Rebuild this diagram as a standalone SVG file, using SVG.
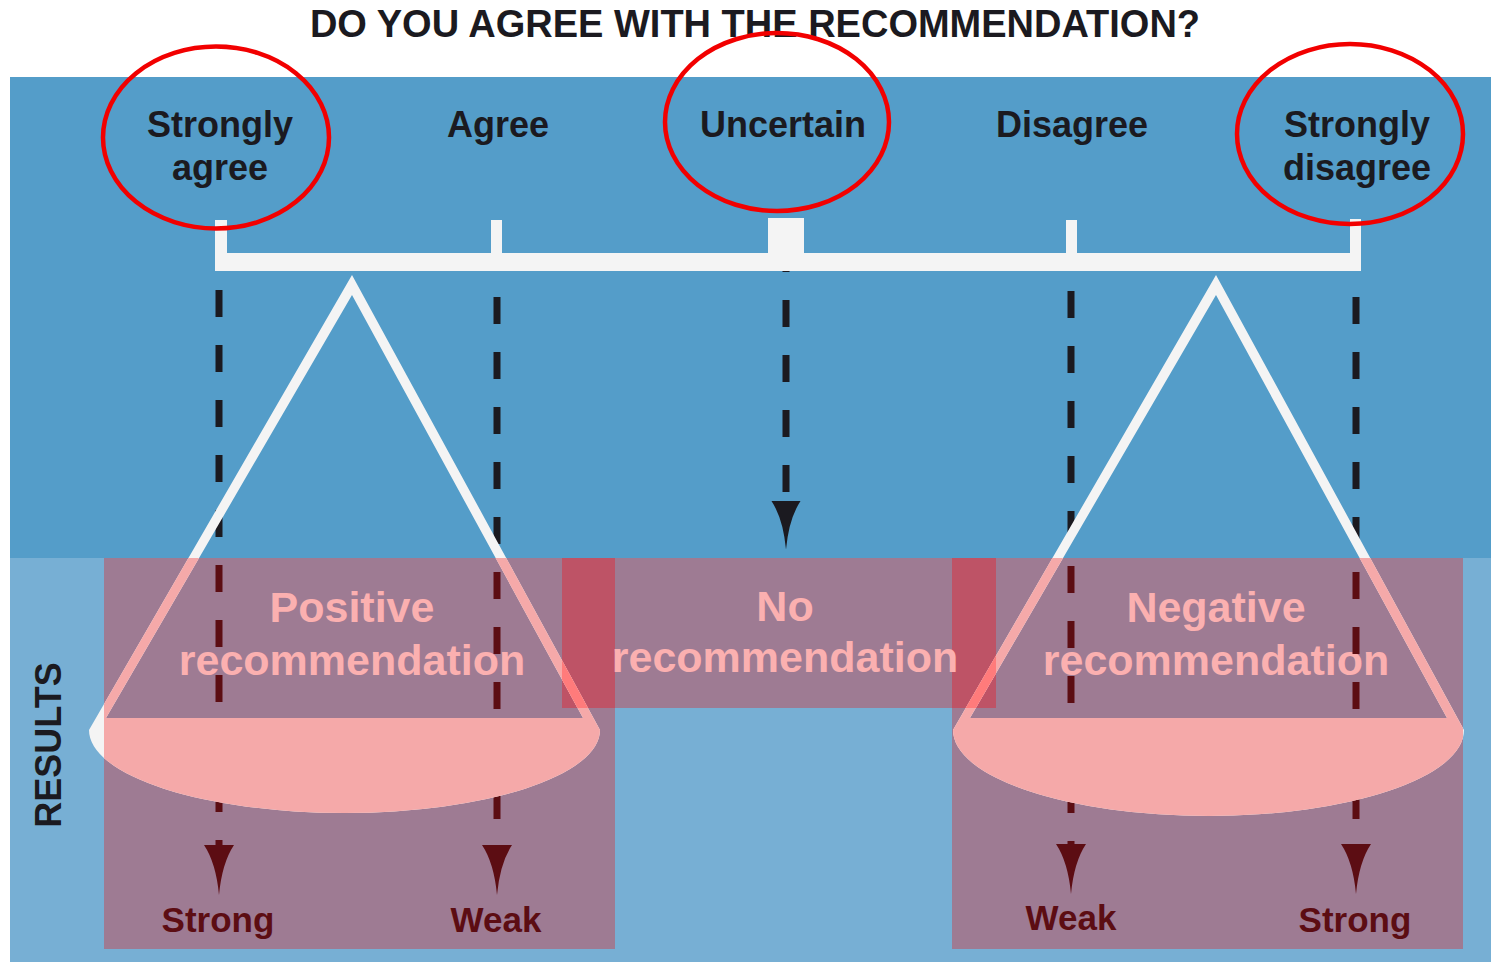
<svg xmlns="http://www.w3.org/2000/svg" width="1491" height="963" viewBox="0 0 1491 963">
  <style>
    text { font-family: "Liberation Sans", Arial, sans-serif; font-weight: bold; text-anchor: middle; }
    .title { font-size: 38px; fill: #1b1a20; }
    .opt { font-size: 36px; fill: #1b1a20; }
    .res { font-size: 43px; fill: #fbb0b0; }
    .grade { font-size: 35px; fill: #5c0d13; }
    .side { font-size: 36px; fill: #1b1a20; }
    .ring { fill: none; stroke: #f20000; stroke-width: 4.5; }
    .bar { fill: #f4f4f4; }
    .dash { stroke-width: 7; stroke-dasharray: 27 28; fill: none; }
    .box { fill: #9e7b93; }
    .boxover { fill: #be5366; }
  </style>
  <defs>
    <linearGradient id="dashInk" gradientUnits="userSpaceOnUse" x1="0" y1="0" x2="0" y2="963">
      <stop offset="0.5794" stop-color="#1b1a20"/>
      <stop offset="0.5794" stop-color="#5c0d13"/>
    </linearGradient>
    <path id="head" d="M-15,0 L15,0 Q3,18 0,50 Q-3,18 -15,0 Z"/>
    <path id="scaleL" fill-rule="evenodd" d="M352,275 L89,730 A255.5,83 0 0 0 600,730 Z M352,295 L583,718 L106,718 Z"/>
    <path id="scaleR" fill-rule="evenodd" d="M1216,275 L953,730 A255.5,86 0 0 0 1464,730 Z M1216,295 L1447,718 L970,718 Z"/>
    <clipPath id="inBoxes">
      <rect x="104" y="558" width="511" height="391"/>
      <rect x="952" y="558" width="511" height="391"/>
      <rect x="562" y="558" width="434" height="150"/>
    </clipPath>
    <clipPath id="inOverlap">
      <rect x="562" y="558" width="53" height="150"/>
      <rect x="952" y="558" width="44" height="150"/>
    </clipPath>
  </defs>

  <!-- background panels -->
  <rect x="0" y="0" width="1491" height="963" fill="#ffffff"/>
  <rect x="10" y="77" width="1481" height="481" fill="#549dc9"/>
  <rect x="10" y="558" width="1481" height="404" fill="#77afd4"/>

  <text class="title" x="755" y="37">DO YOU AGREE WITH THE RECOMMENDATION?</text>

  <!-- result boxes -->
  <g id="box-positive"><rect class="box" x="104" y="558" width="511" height="391"/></g>
  <g id="box-negative"><rect class="box" x="952" y="558" width="511" height="391"/></g>
  <g id="box-none">
    <rect class="box" x="562" y="558" width="434" height="150"/>
    <rect class="boxover" x="562" y="558" width="53" height="150"/>
    <rect class="boxover" x="952" y="558" width="44" height="150"/>
  </g>

  <g id="results-label">
    <text class="side" transform="translate(61,745) rotate(-90)">RESULTS</text>
  </g>

  <!-- result captions -->
  <g id="positive-text">
    <text class="res" x="352" y="622">Positive</text>
    <text class="res" x="352" y="675">recommendation</text>
  </g>
  <g id="none-text">
    <text class="res" x="785" y="621">No</text>
    <text class="res" x="785" y="672">recommendation</text>
  </g>
  <g id="negative-text">
    <text class="res" x="1216" y="622">Negative</text>
    <text class="res" x="1216" y="675">recommendation</text>
  </g>

  <!-- dashed arrows from each answer down to the outcome -->
  <g id="connectors">
    <line class="dash" x1="219" y1="235" x2="219" y2="846" stroke="url(#dashInk)"/>
    <line class="dash" x1="497" y1="242" x2="497" y2="846" stroke="url(#dashInk)"/>
    <line class="dash" x1="786" y1="245" x2="786" y2="502" stroke="#1b1a20"/>
    <line class="dash" x1="1071" y1="236" x2="1071" y2="846" stroke="url(#dashInk)"/>
    <line class="dash" x1="1356" y1="242" x2="1356" y2="846" stroke="url(#dashInk)"/>
    <use href="#head" transform="translate(219,845)" fill="#5c0d13"/>
    <use href="#head" transform="translate(497,845)" fill="#5c0d13"/>
    <use href="#head" transform="translate(786,501) scale(0.97,0.97)" fill="#1b1a20"/>
    <use href="#head" transform="translate(1071,844)" fill="#5c0d13"/>
    <use href="#head" transform="translate(1356,844)" fill="#5c0d13"/>
  </g>

  <!-- answer scale bar -->
  <g id="scale-bar">
    <rect class="bar" x="215" y="253" width="1146" height="18"/>
    <rect class="bar" x="215" y="220" width="12" height="51"/>
    <rect class="bar" x="491" y="220" width="11" height="34"/>
    <rect class="bar" x="768" y="218" width="36" height="36"/>
    <rect class="bar" x="1066" y="220" width="11" height="34"/>
    <rect class="bar" x="1350" y="219" width="11" height="52"/>
  </g>

  <!-- balance pans -->
  <g id="scale-positive">
    <use href="#scaleL" fill="#f4f4f4"/>
    <use href="#scaleL" fill="#f5a9a9" clip-path="url(#inBoxes)"/>
    <use href="#scaleL" fill="#ff7b7b" clip-path="url(#inOverlap)"/>
  </g>
  <g id="scale-negative">
    <use href="#scaleR" fill="#f4f4f4"/>
    <use href="#scaleR" fill="#f5a9a9" clip-path="url(#inBoxes)"/>
    <use href="#scaleR" fill="#ff7b7b" clip-path="url(#inOverlap)"/>
  </g>

  <!-- answer options -->
  <g id="opt-strongly-agree">
    <text class="opt" x="220" y="137">Strongly</text>
    <text class="opt" x="220" y="180">agree</text>
    <ellipse class="ring" cx="216" cy="137.5" rx="113" ry="91"/>
  </g>
  <g id="opt-agree"><text class="opt" x="498" y="137">Agree</text></g>
  <g id="opt-uncertain">
    <text class="opt" x="783" y="137">Uncertain</text>
    <ellipse class="ring" cx="777" cy="122" rx="112" ry="89"/>
  </g>
  <g id="opt-disagree"><text class="opt" x="1072" y="137">Disagree</text></g>
  <g id="opt-strongly-disagree">
    <text class="opt" x="1357" y="137">Strongly</text>
    <text class="opt" x="1357" y="180">disagree</text>
    <ellipse class="ring" cx="1350" cy="134" rx="113" ry="90"/>
  </g>

  <!-- outcome strengths -->
  <g id="grade-pos-strong"><text class="grade" x="218" y="932">Strong</text></g>
  <g id="grade-pos-weak"><text class="grade" x="496" y="932">Weak</text></g>
  <g id="grade-neg-weak"><text class="grade" x="1071" y="930">Weak</text></g>
  <g id="grade-neg-strong"><text class="grade" x="1355" y="932">Strong</text></g>
</svg>
